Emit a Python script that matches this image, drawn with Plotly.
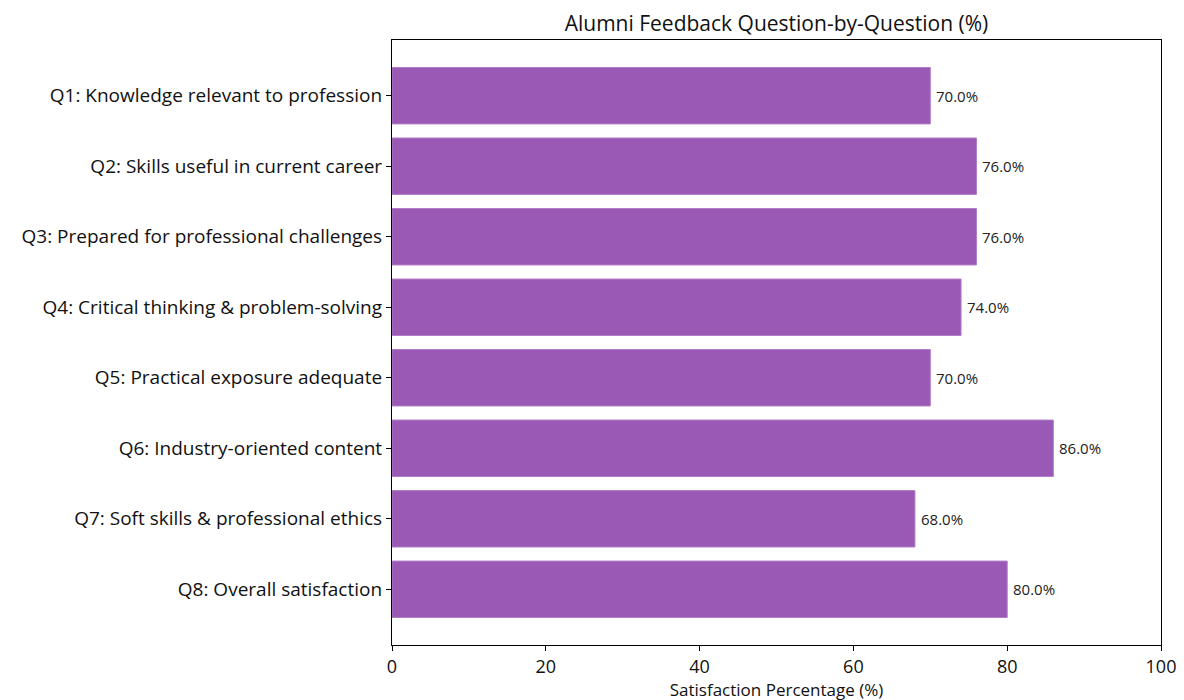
import plotly.graph_objects as go

questions = [
    "Q1: Knowledge relevant to profession",
    "Q2: Skills useful in current career",
    "Q3: Prepared for professional challenges",
    "Q4: Critical thinking & problem-solving",
    "Q5: Practical exposure adequate",
    "Q6: Industry-oriented content",
    "Q7: Soft skills & professional ethics",
    "Q8: Overall satisfaction",
]
satisfaction = [70.0, 76.0, 76.0, 74.0, 70.0, 86.0, 68.0, 80.0]
x_ticks = [0, 20, 40, 60, 80, 100]

FONT = "Open Sans"
BAR = "#9B59B6"

fig = go.Figure()
fig.add_trace(go.Bar(
    y=list(range(len(questions))),
    x=satisfaction,
    orientation="h",
    width=0.8,
    marker=dict(color=BAR, line=dict(color="#B07CC6", width=1)),
    hoverinfo="x+y",
))

for i, v in enumerate(satisfaction):
    fig.add_annotation(
        x=v, y=i, text=f"{v:.1f}%", showarrow=False,
        xanchor="left", yanchor="middle", xshift=4,
        font=dict(family=FONT, size=15, color="#222222"),
    )

fig.update_layout(
    width=1184, height=700,
    margin=dict(l=384, r=31, t=32, b=63),
    paper_bgcolor="white", plot_bgcolor="white",
    showlegend=False,
    title=dict(text="Alumni Feedback Question-by-Question (%)",
               x=(384 + 1153) / 2 / 1184, xanchor="center",
               y=1 - 16 / 700, yanchor="middle",
               font=dict(family=FONT, size=21, color="#111111")),
    font=dict(family=FONT, color="#111111"),
)
fig.update_xaxes(
    range=[0, 100], tickvals=x_ticks, ticktext=[str(t) for t in x_ticks],
    showgrid=False, zeroline=False,
    showline=True, linecolor="black", linewidth=1.2, mirror=True,
    ticks="outside", ticklen=5, tickcolor="black",
    tickfont=dict(family=FONT, size=18, color="#111111"),
    title=dict(text="Satisfaction Percentage (%)", standoff=4,
               font=dict(family=FONT, size=17, color="#111111")),
)
fig.update_yaxes(
    range=[7.79, -0.79], tickvals=list(range(len(questions))), ticktext=questions,
    showgrid=False, zeroline=False,
    showline=True, linecolor="black", linewidth=1.2, mirror=True,
    ticks="outside", ticklen=5, tickcolor="black",
    tickfont=dict(family=FONT, size=19, color="#111111"),
)

fig.write_html("out.html")
